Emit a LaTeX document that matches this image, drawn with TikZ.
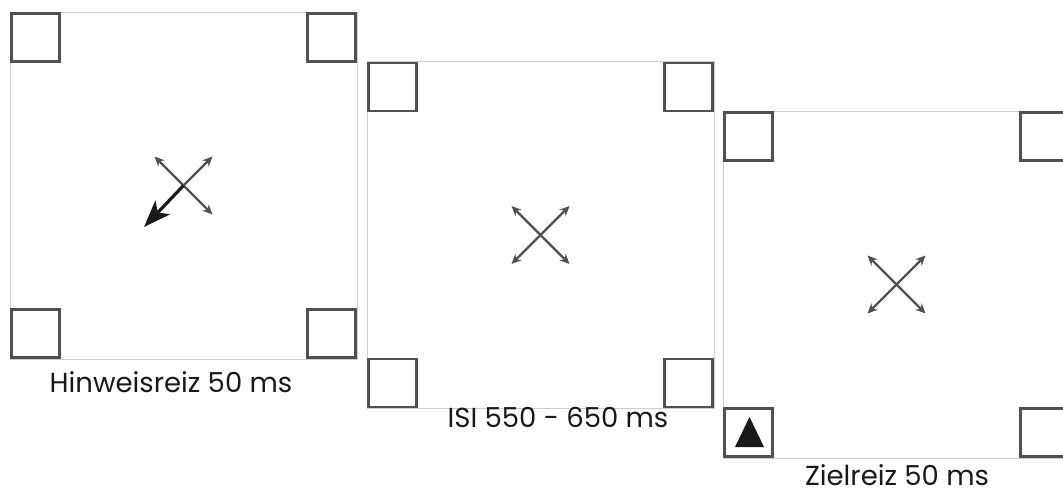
\documentclass[tikz,border=0pt]{standalone}
\usepackage{fontspec}
\setmainfont{Poppins}
\usetikzlibrary{arrows.meta}

\definecolor{boxgray}{HTML}{505050}
\definecolor{framegray}{HTML}{CDCDCD}

\tikzset{
  x=1pt, y=-1pt,
  frame/.style={draw=framegray, line width=0.9pt, minimum size=347pt, inner sep=0pt},
  corner/.style={draw=boxgray, line width=2.8pt, minimum size=48pt, inner sep=0pt, fill=white},
  >={Stealth[length=10pt,width=9pt,inset=3.5pt]},
  fixarrow/.style={draw=boxgray, line width=2.4pt},
  cuearrow/.style={draw=black!90, line width=3.2pt,
    arrows={-Stealth[length=27pt,width=20pt,inset=7pt]}},
  caption/.style={font=\fontsize{27.5}{30}\selectfont, text=black!90, anchor=base, inner sep=0pt},
  target/.style={fill=black!90},
  % one display screen: frame, four placeholder boxes and the cross end points
  pics/display/.style={code={
    \node[frame] (-frame) at (0,0) {};
    \node[corner] (-tl) at (-148,-148) {};
    \node[corner] (-tr) at ( 148,-148) {};
    \node[corner] (-bl) at (-148, 148) {};
    \node[corner] (-br) at ( 148, 148) {};
    \coordinate (-c)  at (0,0);
    \coordinate (-ul) at (-29,-29);
    \coordinate (-ur) at ( 29,-29);
    \coordinate (-ll) at (-29, 29);
    \coordinate (-lr) at ( 29, 29);
  }}
}

\begin{document}
\begin{tikzpicture}
  \useasboundingbox (0,0) rectangle (1063,490);
  \clip (0,0) rectangle (1063,490);

  % cue display
  \pic (p1) at (183.5,185.5) {display};
  \coordinate (p1-cue) at (144,227);
  \draw[fixarrow,<->] (p1-lr) -- (p1-ul);
  \draw[fixarrow,->] (p1-c) -- (p1-ur);
  \draw[cuearrow] (p1-c) -- (p1-cue);
  \node[caption] (cap1) at (171,392) {Hinweisreiz 50 ms};

  % inter-stimulus interval
  \pic (p2) at (540.5,235) {display};
  \draw[fixarrow,<->] (p2-ll) -- (p2-ur);
  \draw[fixarrow,<->] (p2-lr) -- (p2-ul);
  \node[caption] (cap2) at (558,427) {ISI 550 - 650 ms};

  % target display
  \pic (p3) at (896.5,284.5) {display};
  \draw[fixarrow,<->] (p3-ll) -- (p3-ur);
  \draw[fixarrow,<->] (p3-lr) -- (p3-ul);
  \coordinate (tri-a) at (735,447);
  \coordinate (tri-b) at (764,447);
  \coordinate (tri-c) at (749.5,417);
  \fill[target] (tri-a) -- (tri-b) -- (tri-c) -- cycle;
  \node[caption] (cap3) at (897,485) {Zielreiz 50 ms};
\end{tikzpicture}
\end{document}
